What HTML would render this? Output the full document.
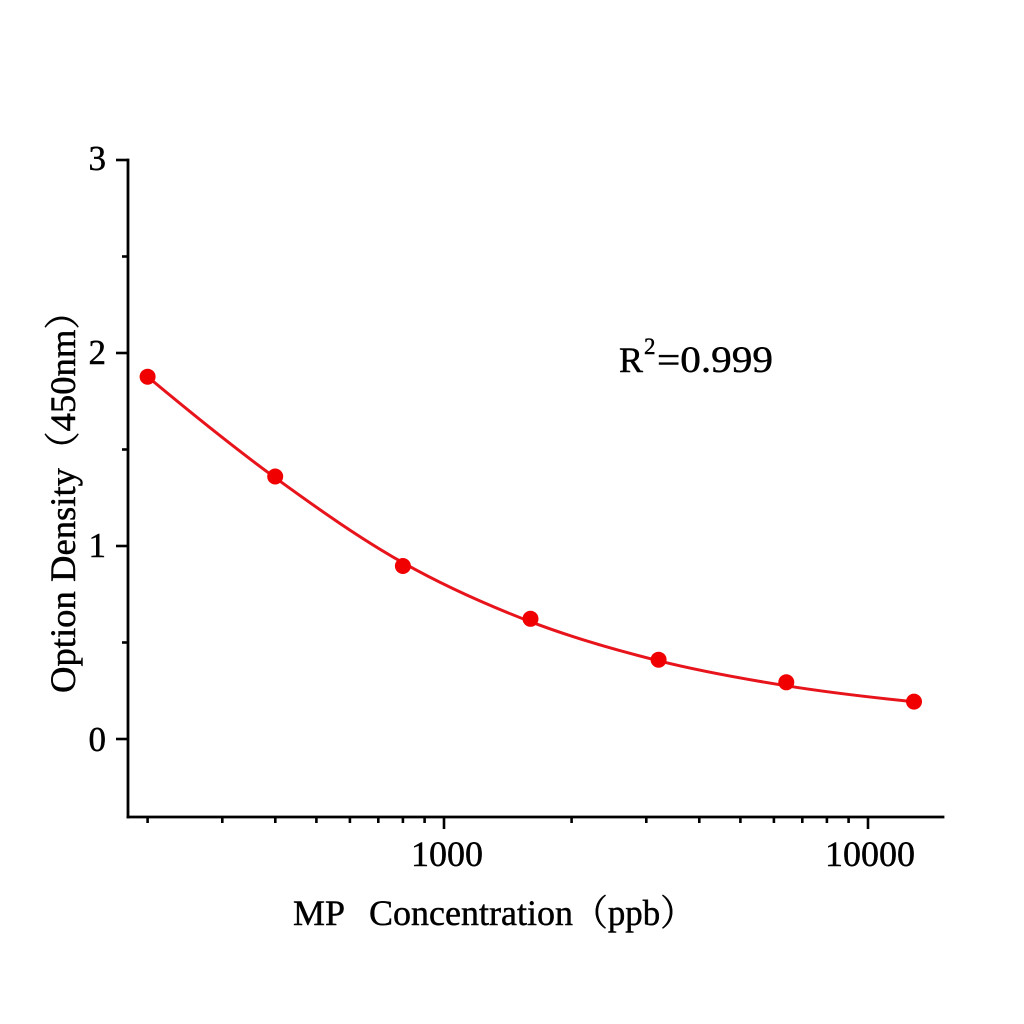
<!DOCTYPE html>
<html>
<head>
<meta charset="utf-8">
<style>
  html, body { margin: 0; padding: 0; background: #ffffff; }
  svg { display: block; }
  text { font-family: "Liberation Serif", "Noto Serif CJK SC", serif; fill: #000; stroke: #000; stroke-width: 0.45px; }
</style>
</head>
<body>
<svg width="1024" height="1024" viewBox="0 0 1024 1024" xmlns="http://www.w3.org/2000/svg">
  <rect x="0" y="0" width="1024" height="1024" fill="#ffffff"/>

  <!-- Axes -->
  <g stroke="#000" stroke-width="2.8" fill="none" stroke-linecap="square">
    <line x1="128" y1="160" x2="128" y2="817"/>
    <line x1="128" y1="817" x2="943" y2="817"/>
  </g>

  <!-- Y ticks -->
  <g stroke="#000" stroke-width="2.6">
    <line x1="116" y1="160" x2="128" y2="160"/>
    <line x1="116" y1="353" x2="128" y2="353"/>
    <line x1="116" y1="546" x2="128" y2="546"/>
    <line x1="116" y1="739" x2="128" y2="739"/>
    <line x1="122" y1="256.5" x2="128" y2="256.5"/>
    <line x1="122" y1="449.5" x2="128" y2="449.5"/>
    <line x1="122" y1="642.5" x2="128" y2="642.5"/>
  </g>

  <!-- X ticks -->
  <g stroke="#000" stroke-width="2.6">
    <line x1="444" y1="817" x2="444" y2="829"/>
    <line x1="868" y1="817" x2="868" y2="829"/>
    <line x1="147.6" y1="817" x2="147.6" y2="823"/>
    <line x1="222.3" y1="817" x2="222.3" y2="823"/>
    <line x1="275.3" y1="817" x2="275.3" y2="823"/>
    <line x1="316.4" y1="817" x2="316.4" y2="823"/>
    <line x1="349.9" y1="817" x2="349.9" y2="823"/>
    <line x1="378.3" y1="817" x2="378.3" y2="823"/>
    <line x1="402.9" y1="817" x2="402.9" y2="823"/>
    <line x1="424.6" y1="817" x2="424.6" y2="823"/>
    <line x1="571.6" y1="817" x2="571.6" y2="823"/>
    <line x1="646.3" y1="817" x2="646.3" y2="823"/>
    <line x1="699.3" y1="817" x2="699.3" y2="823"/>
    <line x1="740.4" y1="817" x2="740.4" y2="823"/>
    <line x1="773.9" y1="817" x2="773.9" y2="823"/>
    <line x1="802.3" y1="817" x2="802.3" y2="823"/>
    <line x1="826.9" y1="817" x2="826.9" y2="823"/>
    <line x1="848.6" y1="817" x2="848.6" y2="823"/>
  </g>

  <!-- Y tick labels -->
  <g font-size="35" text-anchor="end">
    <text x="106" y="170">3</text>
    <text x="106" y="364">2</text>
    <text x="106" y="557">1</text>
    <text x="106" y="751">0</text>
  </g>

  <!-- X tick labels -->
  <g font-size="36" text-anchor="middle">
    <text x="447" y="866">1000</text>
    <text x="870" y="866">10000</text>
  </g>

  <!-- X axis title -->
  <g font-size="36">
    <text x="293" y="925">MP</text>
    <text x="369" y="925" textLength="204" lengthAdjust="spacingAndGlyphs">Concentration</text>
    <text x="573" y="925" textLength="122" lengthAdjust="spacingAndGlyphs">（ppb）</text>
  </g>

  <!-- Y axis title -->
  <g transform="translate(75,693) rotate(-90)" font-size="36">
    <text x="0" y="0" textLength="225" lengthAdjust="spacingAndGlyphs">Option Density</text>
    <text x="225" y="0" textLength="175" lengthAdjust="spacingAndGlyphs">（450nm）</text>
  </g>

  <!-- R^2 annotation -->
  <text x="619" y="372" font-size="36">R</text>
  <text x="644" y="354" font-size="23">2</text>
  <text x="657" y="372" font-size="37" textLength="116" lengthAdjust="spacingAndGlyphs">=0.999</text>

  <!-- Fitted curve -->
  <path d="M147.6,376.7
           C190.15,412.2 232.65,446.7 275.2,477.7
           C317.75,508.7 360.35,538.7 402.9,562.7
           C445.45,586.7 487.95,605.37 530.5,621.7
           C573.05,638.03 615.65,650.03 658.2,660.7
           C700.75,671.37 743.25,678.87 785.8,685.7
           C828.35,692.53 870.85,697.37 913.4,701.7"
        fill="none" stroke="#e8141c" stroke-width="3" stroke-linejoin="round" stroke-linecap="round"/>

  <!-- Data points -->
  <g fill="#f00000">
    <circle cx="147.6" cy="376.7" r="8"/>
    <circle cx="275.2" cy="476.5" r="8"/>
    <circle cx="402.9" cy="566" r="8"/>
    <circle cx="530.5" cy="618.8" r="8"/>
    <circle cx="658.6" cy="659.7" r="8"/>
    <circle cx="786.3" cy="682.3" r="8"/>
    <circle cx="914" cy="701.6" r="8"/>
  </g>
</svg>
</body>
</html>
